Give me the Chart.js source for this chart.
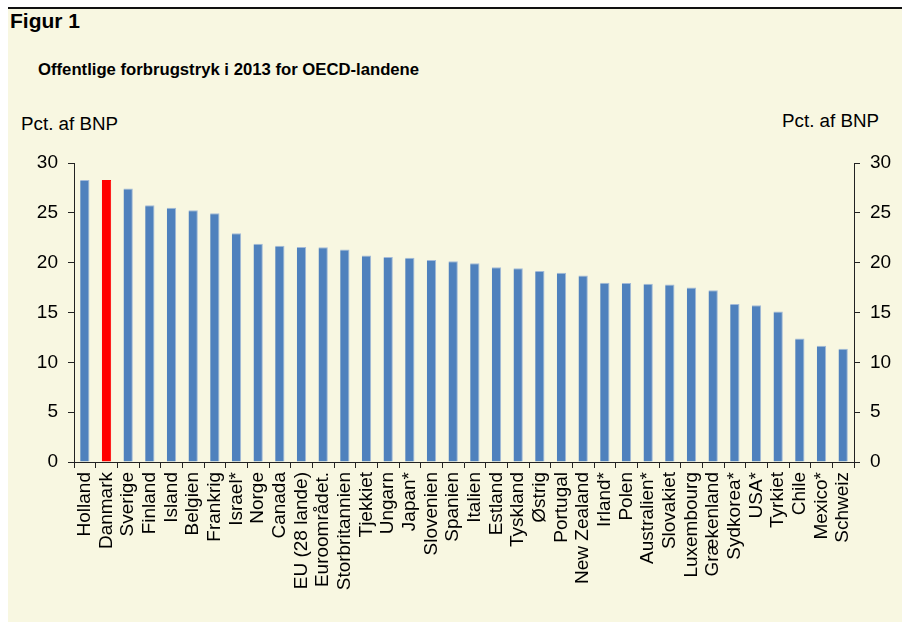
<!DOCTYPE html>
<html>
<head>
<meta charset="utf-8">
<script src="https://cdn.jsdelivr.net/npm/chart.js@4/dist/chart.umd.min.js"></script>
<style>
  body { margin: 0; background: #fff; font-family: Arial, "Liberation Sans", sans-serif; }
  #panel { position: absolute; left: 8px; top: 7px; width: 894px; height: 615px; background: #f8f7e1; border-top: 2px solid #111; }
  .txt { position: absolute; line-height: 1; color: #000; white-space: nowrap; }
  #chartBox { position: absolute; left: 8px; top: 130px; }
</style>
</head>
<body>
<div id="panel"></div>
<div class="txt" style="left:10px; top:10px; font-size:21px; font-weight:bold;">Figur 1</div>
<div class="txt" style="left:38px; top:62px; font-size:16.7px; font-weight:bold;">Offentlige forbrugstryk i 2013 for OECD-landene</div>
<div class="txt" style="left:21px; top:115px; font-size:18.8px;">Pct. af BNP</div>
<div class="txt" style="left:782px; top:112px; font-size:18.8px;">Pct. af BNP</div>
<div id="chartBox"><canvas id="chart" width="894" height="492" style="width:894px;height:492px;"></canvas></div>
<script>
  // -----------------------------
  // data
  // -----------------------------
  const countries = ["Holland", "Danmark", "Sverige", "Finland", "Island", "Belgien", "Frankrig", "Israel*",
    "Norge", "Canada", "EU (28 lande)", "Euroområdet.", "Storbritannien", "Tjekkiet", "Ungarn", "Japan*",
    "Slovenien", "Spanien", "Italien", "Estland", "Tyskland", "Østrig", "Portugal", "New Zealand",
    "Irland*", "Polen", "Australien*", "Slovakiet", "Luxembourg", "Grækenland", "Sydkorea*", "USA*",
    "Tyrkiet", "Chile", "Mexico*", "Schweiz"];
  const spending = [28.3, 28.3, 27.45, 25.75, 25.5, 25.25, 24.97, 22.94,
    21.9, 21.7, 21.56, 21.55, 21.33, 20.73, 20.56, 20.5,
    20.26, 20.13, 19.93, 19.53, 19.43, 19.16, 18.99, 18.72,
    17.99, 17.95, 17.88, 17.82, 17.52, 17.22, 15.85, 15.72,
    15.11, 12.4, 11.67, 11.37];
  const yTicks = [0, 5, 10, 15, 20, 25, 30];
  const highlight = "Danmark";

  const blue = "#4f81bd";
  const red = "#ff0000";

  const barColors = countries.map(c => c === highlight ? red : blue);
  const edgeColors = countries.map(c => c === highlight ? red : "#a3bad8");

  const font = { family: "Arial, 'Liberation Sans', sans-serif" };

  function yAxis(position, width) {
    return {
      position: position,
      min: yTicks[0],
      max: yTicks[yTicks.length - 1],
      afterBuildTicks: axis => { axis.ticks = yTicks.map(v => ({ value: v })); },
      afterFit: axis => { axis.width = width; },
      grid: { drawOnChartArea: false, drawTicks: true, tickLength: 6, color: "#222" },
      border: { display: true, color: "#222", width: 1 },
      ticks: { color: "#000", padding: 10, font: { ...font, size: 19 } }
    };
  }

  new Chart(document.getElementById("chart").getContext("2d"), {
    type: "bar",
    data: {
      labels: countries,
      datasets: [{
        data: spending,
        backgroundColor: barColors,
        borderColor: edgeColors,
        borderWidth: { top: 1, right: 1, left: 0, bottom: 0 },
        borderSkipped: false,
        barPercentage: 0.43,
        categoryPercentage: 1.0,
        yAxisID: "y"
      }]
    },
    options: {
      responsive: false,
      animation: false,
      layout: { padding: { top: 33, left: 0, right: 0, bottom: 0 } },
      plugins: { legend: { display: false }, tooltip: { enabled: false } },
      scales: {
        x: {
          afterFit: axis => { axis.height = 160; },
          grid: { drawOnChartArea: false, drawTicks: true, tickLength: 6, color: "#222", offset: true },
          border: { display: true, color: "#222", width: 1 },
          ticks: { color: "#000", minRotation: 90, maxRotation: 90, autoSkip: false, padding: 4, font: { ...font, size: 19 } }
        },
        y: yAxis("left", 66),
        y2: yAxis("right", 48)
      }
    }
  });
</script>
</body>
</html>
